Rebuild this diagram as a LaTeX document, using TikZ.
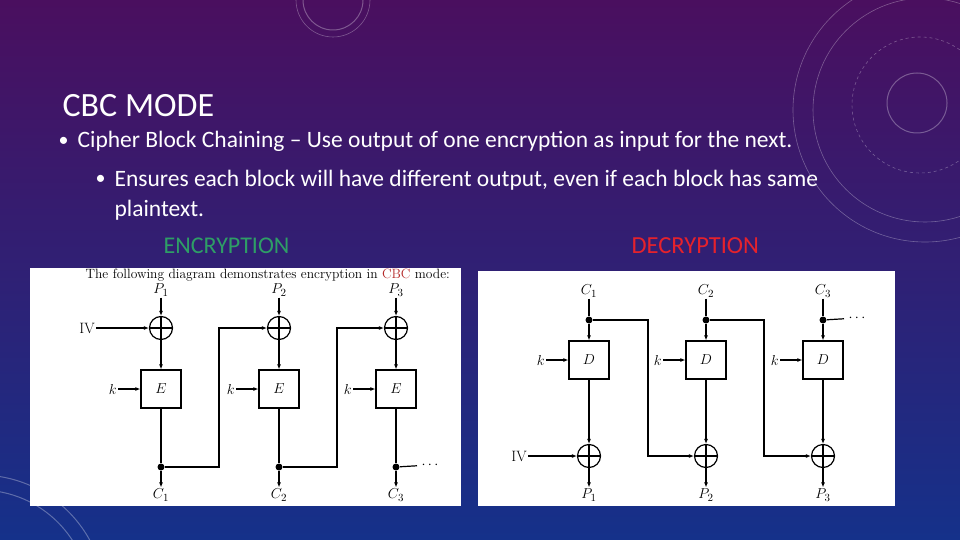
\documentclass[tikz,border=0pt]{standalone}
\usepackage[no-math]{fontspec}
\newfontfamily\slidefont{Carlito}
\usetikzlibrary{arrows.meta,positioning}
\definecolor{bgtop}{HTML}{4A0F5F}
\definecolor{bgbot}{HTML}{15318A}
\definecolor{encgreen}{HTML}{2E9E66}
\definecolor{decred}{HTML}{E5222C}
\definecolor{capred}{HTML}{B52A2A}

\begin{document}
\begin{tikzpicture}[
    x=1pt,y=-1pt,
    node distance=10pt,
    blk/.style={rectangle,draw,minimum width=40pt,minimum height=38pt,
                inner sep=0pt,font=\fontsize{15}{17}\selectfont},
    xor/.style={circle,draw,minimum size=23pt,inner sep=0pt,
                path picture={\draw (path picture bounding box.north) -- (path picture bounding box.south)
                              (path picture bounding box.west) -- (path picture bounding box.east);}},
    dot/.style={circle,fill,inner sep=0pt,minimum size=7pt},
    lbl/.style={font=\fontsize{15}{17}\selectfont,inner sep=1pt},
    sld/.style={text=white,anchor=base west,inner sep=0pt},
    deco/.style={draw=white,opacity=0.3,line width=1pt},
    >={Latex[length=5pt,width=4pt]},line width=1.2pt
  ]
    % slide background
    \shade[top color=bgtop,bottom color=bgbot] (0,0) rectangle (960,540);
    \useasboundingbox (0,0) rectangle (960,540);
    \draw[deco] (917,103) circle (30);
    \draw[deco,dashed,line width=0.6pt] (920,105) circle (68);
    \draw[deco,line width=0.6pt] (925,110) circle (112);
    \draw[deco,line width=0.6pt] (925,110) circle (132);
    \draw[deco] (333,0) circle (30);
    \draw[deco,line width=0.6pt] (333,0) circle (37);
    \draw[deco] (-20,600) circle (110);
    \draw[deco] (-20,600) circle (125);

    % slide text
    \node[sld,font=\slidefont\fontsize{34}{38}\selectfont] (title) at (62,117) {CBC MODE};
    \node[sld,font=\slidefont\fontsize{20}{24}\selectfont] (m1) at (58,147) {\textbullet};
    \node[sld,font=\slidefont\fontsize{23.5}{27}\selectfont] (t1) at (77,148)
      {Cipher Block Chaining – Use output of one encryption as input for the next.};
    \node[sld,font=\slidefont\fontsize{20}{24}\selectfont] (m2) at (95,185) {\textbullet};
    \node[sld,font=\slidefont\fontsize{23.5}{27}\selectfont] (t2) at (114,186)
      {Ensures each block will have different output, even if each block has same};
    \node[sld,font=\slidefont\fontsize{23.5}{27}\selectfont] (t3) at (114,216) {plaintext.};
    \node[sld,text=encgreen,font=\slidefont\fontsize{24}{27}\selectfont] (enc) at (163,253) {ENCRYPTION};
    \node[sld,text=decred,font=\slidefont\fontsize{24.5}{27}\selectfont] (dec) at (631,253) {DECRYPTION};

    % encryption panel
    \fill[white] (30,268) rectangle (461,506);
    \begin{scope}
      \clip (30,268) rectangle (461,506);
      \node[anchor=base west,inner sep=0pt,font=\fontsize{13.5}{15}\selectfont] (cap) at (85,278)
        {The following diagram demonstrates encryption in \textcolor{capred}{CBC} mode:};
    \end{scope}
    \foreach \i/\x in {1/161,2/279,3/396} {
      \node[lbl] (p\i) at (\x,290) {$P_\i$};
      \node[xor] (x\i) at (\x,328) {};
      \node[blk] (e\i) at (\x,389) {$E$};
      \node[dot] (d\i) at (\x,467) {};
      \node[lbl] (c\i) at (\x,495) {$C_\i$};
      \node[lbl,left=22pt of e\i] (k\i) {$k$};
      \draw[->] (p\i) -- (x\i);
      \draw[->] (x\i) -- (e\i);
      \draw[->] (k\i) -- (e\i);
      \draw (e\i) -- (d\i);
      \draw[->] (d\i) -- (c\i);
    }
    \node[lbl] (iv1) at (87,328) {IV};
    \draw[->] (iv1) -- (x1);
    \draw[->] (d1) -- ++(58,0) |- (x2);
    \draw[->] (d2) -- ++(58,0) |- (x3);
    \node[lbl,inner sep=4pt] (more1) at (430,465) {$\cdots$};
    \draw (d3) -- (more1);

    % decryption panel
    \fill[white] (478,271) rectangle (895,506);
    \foreach \i/\x in {1/589,2/706,3/823} {
      \node[lbl] (cc\i) at (\x,291) {$C_\i$};
      \node[dot] (dd\i) at (\x,320) {};
      \node[blk] (dk\i) at (\x,360) {$D$};
      \node[xor] (y\i) at (\x,456) {};
      \node[lbl] (pp\i) at (\x,495) {$P_\i$};
      \node[lbl,left=22pt of dk\i] (kk\i) {$k$};
      \draw (cc\i) -- (dd\i);
      \draw[->] (dd\i) -- (dk\i);
      \draw[->] (kk\i) -- (dk\i);
      \draw[->] (dk\i) -- (y\i);
      \draw[->] (y\i) -- (pp\i);
    }
    \node[lbl] (iv2) at (519,456) {IV};
    \draw[->] (iv2) -- (y1);
    \draw[->] (dd1) -- ++(59,0) |- (y2);
    \draw[->] (dd2) -- ++(58,0) |- (y3);
    \node[lbl,inner sep=4pt] (more2) at (857,318) {$\cdots$};
    \draw (dd3) -- (more2);
  \end{tikzpicture}
\end{document}
